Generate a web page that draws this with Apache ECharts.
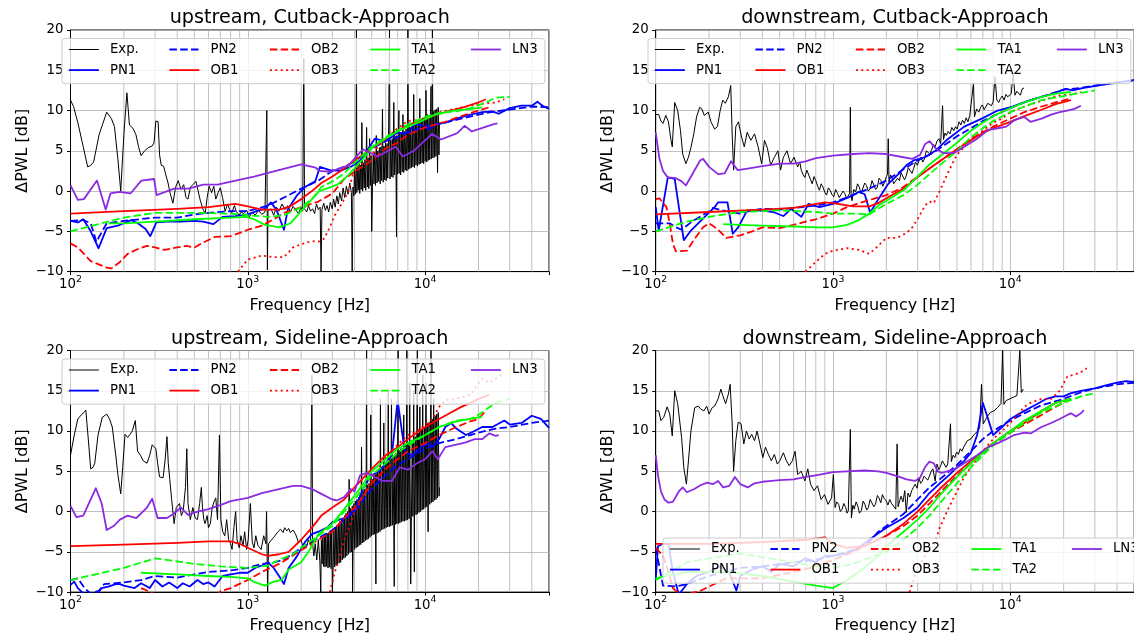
<!DOCTYPE html>
<html><head><meta charset="utf-8">
<script src="https://cdn.jsdelivr.net/npm/echarts@6/dist/echarts.min.js"></script>
<style>html,body{margin:0;padding:0;background:#fff}#c{width:1134px;height:634px}</style>
</head><body><div id="c"></div>
<script>
// ---------------- DATA ----------------
const seriesNames = ['Exp.','PN1','PN2','OB1','OB2','OB3','TA1','TA2','LN3'];
const legendOrder = ['Exp.','PN2','OB2','TA1','LN3','PN1','OB1','OB3','TA2'];
const titles = ['upstream, Cutback-Approach','downstream, Cutback-Approach','upstream, Sideline-Approach','downstream, Sideline-Approach'];
const yTicks = [-10,-5,0,5,10,15,20];
const minorFreqs = [200,300,400,500,600,700,800,900,2000,3000,4000,5000,6000,7000,8000,9000,20000,30000,40000];

// ---- upstream, Cutback-Approach ----
const ucExp = [[100,11.3],[104,10.5],[110,8.5],[118,5.5],[125,3.0],[130,3.2],[135,3.6],[145,7.0],[160,9.8],[170,9.0],[177,8.0],[185,4.0],[192,0.0],[200,7.0],[208,12.2],[215,8.2],[225,7.8],[234,7.0],[242,5.5],[250,4.4],[262,5.0],[275,5.4],[289,5.6],[296,6.0],[303,8.7],[312,8.6],[318,4.5],[325,3.2],[335,3.1],[345,2.0],[355,1.0],[365,-0.3],[378,-1.5],[392,0.5],[405,1.3],[420,0.2],[435,0.8],[448,-0.8],[460,-1.0],[475,0.5],[490,0.8],[510,1.2],[525,0.0],[540,-1.2],[560,-2.3],[575,-2.8],[590,-0.8],[605,0.6],[625,-0.2],[643,0.6],[660,-1.0],[680,-0.2],[700,0.4],[720,-0.8],[745,-2.5],[770,-1.6],[790,-2.3],[810,-2.8],[840,-1.8],[860,-2.5],[890,-3.0],[920,-2.6],[950,-2.8],[985,-2.4],[1020,-3.2],[1060,-2.6],[1100,-3.0],[1150,-2.4],[1200,-2.9],[1250,-2.6],[1280,10.0],[1290,-9.8],[1300,-2.5],[1350,-2.2],[1400,-3.0],[1450,-2.0],[1500,-2.5],[1560,-1.6],[1620,-2.3],[1680,-1.8],[1740,-2.6],[1800,-1.9],[1860,-2.3],[1930,-2.8],[2000,-2.0],[2040,-2.5],[2070,16.5],[2090,-2.2],[2150,-2.6],[2200,-1.8],[2260,-2.5],[2320,-2.2],[2380,-2.8],[2440,-1.6],[2500,-2.3],[2560,-2.0],[2590,-10.0],[2620,-2.3],[2680,-1.5],[2740,-2.4],[2800,-1.8],[2860,-2.6],[2920,-1.4],[2990,-2.2],[3050,-1.0],[3110,-2.0],[3180,-0.6],[3240,-1.6],[3300,-0.2],[3380,-1.2],[3450,0.4],[3520,-0.8],[3600,0.6],[3680,-0.4],[3760,1.0],[3840,-0.2],[3880,-10.0],[3920,0.5],[3960,-0.6],
[4000,2.8],[4040,-0.4],[4080,3.1],[4100,20],[4120,-0.2],[4160,2.9],[4200,0.1],[4240,3.4],[4280,-0.3],[4320,3.2],[4360,0.2],[4400,8.5],[4445,0.0],[4490,3.5],[4535,0.4],[4580,3.9],[4625,0.1],[4680,7.9],[4720,0.5],[4770,4.1],[4815,0.3],[4865,6.5],[4910,0.7],[4960,4.4],[5000,-5.0],[5050,0.6],[5100,4.6],[5150,0.9],[5200,4.8],[5255,0.7],[5305,6.9],[5360,1.0],[5415,5.0],[5470,1.2],[5525,5.4],[5580,0.9],[5635,5.5],[5690,1.3],[5750,10.2],[5805,1.1],[5865,5.6],[5920,1.4],[5980,6.0],[6040,1.3],[6100,5.9],[6160,1.6],[6220,6.2],[6300,20],[6340,1.5],[6400,6.3],[6465,1.8],[6530,6.5],[6595,1.7],[6660,11.0],[6725,2.0],[6790,6.8],[6860,1.9],[6900,-5.7],[6930,6.9],[7000,2.1],[7070,7.0],[7120,10.0],[7140,2.2],[7210,7.2],[7280,2.0],[7355,7.3],[7430,2.4],[7500,9.5],[7580,2.3],[7655,7.4],[7730,2.6],[7810,7.7],[7890,2.5],[7970,7.8],[8000,20],[8050,2.7],[8130,8.0],[8210,2.8],[8290,7.9],[8375,2.9],[8460,8.2],[8540,3.0],[8630,12.0],[8715,2.9],[8800,8.4],[8890,3.2],[8980,8.5],[9070,3.1],[9160,8.7],[9250,3.3],[9340,11.5],[9440,3.4],[9530,8.9],[9630,3.5],[9720,9.1],[9820,3.4],[9920,9.2],[10020,3.7],[10120,12.5],[10220,3.6],[10320,9.5],[10420,3.8],[10530,9.4],[10630,3.9],[10740,9.7],[10800,13.0],[10850,4.0],[10960,9.8],[11000,20],[11070,4.1],[11180,9.9],[11290,4.2],[11400,10.1],[11520,4.3],[11630,10.2],[11760,2.3],[11860,10.4],[11980,4.5],[12050,8.5]];
const ucPN1 = [[100,-3.7],[110,-3.9],[118,-3.5],[130,-5.0],[144,-7.1],[160,-4.6],[185,-4.3],[205,-3.9],[220,-3.6],[240,-4.0],[265,-4.7],[282,-5.6],[305,-3.9],[350,-3.8],[420,-3.8],[500,-3.7],[560,-3.8],[640,-4.1],[720,-3.2],[850,-3.1],[1000,-2.9],[1150,-2.4],[1250,-2.2],[1350,-1.4],[1450,-2.3],[1600,-4.8],[1680,-2.3],[1900,-0.5],[2100,0.5],[2400,1.2],[2550,3.0],[2900,2.6],[3300,2.5],[3800,3.0],[4300,3.8],[4700,5.0],[5200,6.5],[5700,6.3],[6400,6.6],[7000,7.3],[7500,7.2],[8100,7.3],[8700,8.3],[9500,8.2],[10500,7.7],[11500,8.3],[13000,8.5],[15000,9.0],[18000,9.5],[21000,9.8],[24000,9.9],[26000,9.6],[30000,10.3],[35000,10.6],[40000,10.6],[43000,11.1],[46000,10.6],[50000,10.2]];
const ucPN2 = [[100,-3.7],[118,-3.6],[130,-4.0],[140,-6.3],[160,-4.0],[200,-3.7],[300,-3.3],[400,-3.3],[500,-2.9],[600,-2.7],[800,-2.5],[1000,-2.5],[1300,-1.8],[1600,-0.8],[2000,0.3],[2500,1.3],[3000,2.5],[3500,3.0],[4000,3.7],[4500,4.5],[5000,5.3],[6000,6.2],[7000,6.7],[8000,7.3],[10000,8.0],[13000,8.5],[16000,9.0],[20000,9.5],[25000,9.9],[30000,10.1],[40000,10.5],[50000,10.4]];
const ucOB1 = [[100,-2.8],[200,-2.5],[400,-2.2],[600,-2.0],[850,-1.6],[1000,-1.9],[1200,-2.3],[1500,-2.3],[1700,-2.0],[2000,-1.0],[2300,0.0],[2600,1.0],[3000,1.8],[3500,2.8],[4000,3.8],[5000,5.3],[6000,6.5],[7000,7.5],[8000,8.2],[10000,9.0],[12000,9.6],[14000,10.0],[17000,10.5],[20000,11.0],[22000,11.4]];
const ucOB2 = [[100,-6.5],[110,-7.0],[130,-8.7],[160,-9.5],[170,-9.6],[190,-8.8],[210,-7.8],[240,-7.2],[270,-6.8],[300,-7.0],[340,-7.3],[400,-7.0],[450,-6.8],[500,-7.0],[560,-6.4],[650,-5.7],[800,-5.6],[900,-5.2],[1000,-4.8],[1200,-4.3],[1400,-3.5],[1600,-2.7],[2000,-2.0],[2500,-1.3],[3000,-0.3],[3500,1.5],[4000,2.4],[5000,3.8],[6000,5.3],[7000,6.0],[8000,7.0],[10000,7.9],[13000,8.6],[16000,9.3],[20000,10.0],[23000,10.4]];
const ucOB3 = [[880,-10.0],[1000,-8.5],[1200,-8.0],[1400,-8.2],[1600,-8.2],[1800,-7.0],[2000,-6.6],[2300,-6.2],[2500,-6.3],[2700,-5.9],[2900,-4.5],[3100,-3.0],[3400,-1.5],[3700,0.0],[4000,2.8],[4500,3.5],[5000,4.5],[5500,5.7],[6000,6.5],[7000,7.8],[8000,8.7],[9000,8.8],[10000,9.0],[11000,9.4],[12000,9.8],[14000,10.1],[17000,10.5],[20000,10.8],[25000,11.0],[28000,11.4]];
const ucTA1 = [[164,-4.0],[200,-4.0],[300,-3.8],[500,-3.5],[800,-3.3],[985,-3.2],[1084,-3.5],[1250,-4.2],[1510,-4.5],[1740,-4.0],[2000,-2.5],[2300,-1.0],[2530,0.0],[2780,0.3],[3200,0.8],[3700,2.0],[4470,4.0],[5100,5.5],[5950,6.5],[7100,7.5],[9100,8.5],[11400,9.5],[14500,10.0],[18400,10.2],[21000,10.4]];
const ucTA2 = [[100,-5.0],[150,-4.0],[200,-3.3],[300,-2.7],[500,-2.7],[800,-2.8],[1000,-3.0],[1300,-3.2],[1600,-3.0],[2000,-2.0],[2300,-1.0],[2600,0.5],[3000,1.2],[3500,2.2],[4000,3.5],[5000,5.5],[6000,6.7],[7000,7.5],[8000,8.3],[10000,9.2],[12000,9.7],[15000,9.9],[18000,10.3],[22000,11.0],[25000,11.6],[30000,11.7]];
const ucLN3 = [[100,0.7],[110,-1.1],[119,-1.0],[141,1.3],[158,-2.3],[168,-0.3],[189,-0.1],[218,-0.3],[251,1.3],[296,1.5],[306,-0.5],[384,0.3],[463,0.3],[560,0.8],[676,0.8],[816,1.2],[1084,1.8],[1439,2.5],[2000,3.3],[2415,2.9],[2530,2.5],[2917,2.4],[3698,3.2],[4467,5.2],[5395,4.3],[6823,5.5],[7500,4.3],[8630,5.0],[10940,7.1],[12300,6.4],[15200,7.2],[16700,8.1],[18370,7.4],[24400,8.3],[25600,8.4]];

// ---- downstream, Cutback-Approach ----
const dcExp = [[100,9.5],[104,9.5],[107,8.7],[110,8.4],[114,9.4],[118,8.6],[122,6.3],[124,5.5],[128,11.0],[133,10.0],[138,7.5],[142,4.6],[148,3.4],[153,4.2],[158,5.4],[164,7.1],[170,9.2],[177,10.4],[182,10.2],[188,9.4],[198,9.8],[205,8.6],[215,7.7],[223,8.0],[231,10.0],[239,11.3],[247,10.9],[257,11.7],[265,13.1],[270,7.1],[275,2.6],[283,8.0],[293,8.6],[305,6.7],[316,5.5],[328,7.3],[344,6.3],[361,7.1],[378,5.5],[396,3.4],[411,6.3],[427,5.3],[445,3.2],[467,4.2],[489,5.0],[506,2.6],[525,4.2],[550,5.0],[576,3.4],[603,4.2],[632,3.0],[650,3.6],[662,2.6],[680,2.0],[694,1.7],[712,2.6],[730,2.4],[748,1.4],[763,0.9],[782,1.8],[800,1.3],[820,0.6],[838,0.1],[858,0.9],[878,0.5],[900,-0.2],[920,-0.5],[942,0.4],[964,0.1],[985,-0.4],[1010,-0.7],[1035,0.2],[1061,-0.3],[1085,-0.8],[1112,-1.0],[1140,0.0],[1165,-0.3],[1195,-0.9],[1222,-0.7],[1240,-0.3],[1253,10.4],[1265,-0.5],[1280,-1.2],[1310,0.2],[1342,-0.1],[1375,0.9],[1406,0.5],[1440,-0.3],[1474,-0.1],[1510,1.0],[1545,0.7],[1580,0.0],[1620,0.3],[1660,1.3],[1700,1.1],[1740,0.2],[1780,0.5],[1820,1.6],[1865,1.3],[1910,0.6],[1955,1.1],[2000,1.8],[2030,2.1],[2050,6.5],[2070,1.1],[2110,2.0],[2150,1.7],[2200,0.9],[2250,0.7],[2310,1.6],[2370,1.3],[2420,2.3],[2470,2.1],[2530,1.4],[2590,1.9],[2660,2.9],[2730,2.8],[2790,2.2],[2850,2.8],[2920,3.6],[2990,3.2],[3060,3.8],[3140,4.2],[3210,3.6],[3280,4.0],[3360,5.0],[3440,4.8],[3520,4.6],[3610,5.2],[3690,5.8],[3770,5.5],[3860,6.2],[3960,6.5],[4050,5.9],[4100,6.0],[4150,10.6],[4200,6.4],[4280,7.2],[4360,6.9],[4460,7.4],[4570,7.1],[4680,7.9],[4800,7.5],[4910,8.0],[5020,7.7],[5140,8.6],[5260,8.2],[5380,8.8],[5510,8.4],[5640,9.1],[5770,8.6],[5910,9.4],[6050,9.6],[6200,13.4],[6280,9.2],[6460,10.2],[6640,9.8],[6800,10.4],[6960,10.7],[7120,10.1],[7290,10.0],[7470,10.9],[7650,10.9],[7830,10.6],[8010,11.1],[8200,14.2],[8400,11.3],[8600,11.0],[8800,11.5],[9010,11.8],[9230,11.3],[9450,12.0],[9670,11.7],[9900,11.6],[10130,12.1],[10380,14.6],[10630,11.9],[10880,12.4],[11140,12.3],[11400,11.9],[11680,12.7],[11960,12.8]];
const dcPN1 = [[100,-2.0],[104,-4.9],[117,1.7],[128,1.5],[131,1.7],[144,-6.1],[158,-4.9],[187,-3.3],[215,-2.0],[225,-1.4],[254,-1.4],[272,-5.3],[292,-4.5],[328,-2.4],[377,-2.4],[420,-2.5],[460,-2.6],[525,-3.1],[580,-2.2],[663,-3.2],[727,-1.6],[840,-2.0],[1000,-1.6],[1220,-0.8],[1400,-0.1],[1510,-0.4],[1620,-2.7],[1780,-1.2],[2050,0.9],[2360,2.2],[2590,3.2],[2850,3.8],[3300,4.2],[3780,5.0],[4360,6.3],[5500,8.0],[6900,9.0],[8500,10.0],[10300,10.5],[12950,11.3],[16300,11.9],[20500,12.7],[22500,12.5],[25900,12.8],[33000,13.2],[41000,13.5],[50000,13.8]];
const dcPN2 = [[100,-4.0],[110,-4.0],[120,-4.0],[130,-4.5],[140,-4.8],[160,-3.8],[200,-2.5],[210,-2.1],[250,-2.5],[300,-2.8],[350,-2.4],[400,-2.2],[500,-2.3],[600,-2.1],[800,-1.8],[1000,-1.4],[1200,-0.8],[1400,-0.2],[1600,0.3],[2000,1.3],[2500,2.7],[3000,3.8],[3500,4.5],[4000,5.3],[5000,6.8],[6000,7.8],[7000,8.7],[8000,9.3],[10000,10.3],[12000,11.0],[15000,11.7],[20000,12.6],[25000,12.8],[30000,13.1],[40000,13.5],[50000,13.7]];
const dcOB1 = [[100,-2.9],[200,-2.6],[400,-2.3],[600,-2.1],[900,-1.4],[1000,-1.5],[1300,-1.9],[1600,-1.9],[1800,-1.5],[2000,-0.9],[2500,0.3],[3000,1.7],[3500,2.8],[4000,3.7],[5000,5.2],[6000,6.3],[7000,7.2],[8000,7.8],[10000,8.6],[12000,9.3],[15000,10.1],[18000,10.8],[22000,11.3]];
const dcOB2 = [[100,-1.0],[105,-0.9],[115,-2.0],[120,-4.0],[125,-6.5],[130,-7.5],[150,-7.4],[165,-6.0],[185,-4.5],[200,-4.0],[210,-4.3],[230,-5.0],[250,-5.8],[300,-5.5],[350,-5.0],[400,-4.5],[500,-4.6],[600,-4.2],[700,-3.8],[800,-3.5],[1000,-2.8],[1200,-2.0],[1500,-1.3],[2000,-0.5],[2500,0.5],[3000,1.8],[3500,2.8],[4000,3.7],[5000,5.2],[6000,6.5],[7000,7.3],[8000,8.0],[10000,9.0],[12000,9.8],[15000,10.5],[18000,11.0],[22000,11.5]];
const dcOB3 = [[700,-10.0],[800,-8.8],[900,-7.8],[1000,-7.4],[1200,-7.1],[1400,-7.3],[1600,-7.8],[1800,-6.8],[2000,-5.8],[2300,-5.8],[2600,-5.2],[2800,-4.5],[3000,-3.5],[3300,-1.8],[3500,-1.3],[3700,-1.5],[4000,0.0],[4500,2.5],[5000,4.5],[5500,5.5],[6000,6.5],[7000,7.5],[8000,8.5],[9000,9.0],[10000,9.8],[12000,10.5],[15000,11.2],[18000,11.8],[22000,12.0],[25000,12.3]];
const dcTA1 = [[240,-4.1],[300,-4.2],[400,-4.3],[600,-4.4],[800,-4.5],[1000,-4.5],[1200,-4.2],[1400,-3.6],[1600,-2.8],[1800,-1.8],[2000,-1.2],[2500,0.1],[3000,1.8],[3500,3.3],[4000,4.3],[5000,6.0],[6000,7.5],[7000,8.5],[8000,9.3],[10000,10.3],[12000,11.0],[15000,11.7],[18000,12.1],[22000,12.3]];
const dcTA2 = [[100,-5.0],[150,-3.8],[200,-3.2],[300,-2.6],[500,-2.4],[800,-2.6],[1000,-2.8],[1300,-2.8],[1600,-2.9],[1800,-2.2],[2000,-1.6],[2500,-0.5],[3000,0.8],[3500,2.1],[4000,3.2],[5000,5.0],[6000,6.7],[7000,7.8],[8000,8.7],[10000,9.8],[12000,10.5],[15000,11.3],[20000,11.8],[25000,12.2],[30000,12.5]];
const dcLN3 = [[100,7.3],[105,4.0],[110,2.5],[117,1.7],[130,1.6],[140,1.2],[148,0.7],[160,2.0],[178,3.8],[185,4.0],[200,3.0],[225,2.1],[245,2.2],[266,3.7],[290,2.6],[330,2.8],[400,3.1],[500,3.4],[600,3.4],[700,3.7],[800,4.1],[1000,4.4],[1300,4.6],[1600,4.7],[2000,4.6],[2500,4.2],[2800,4.0],[3100,4.5],[3300,5.8],[3500,6.2],[3800,5.3],[4200,4.7],[4800,4.7],[5500,5.5],[6500,6.5],[7500,7.6],[8500,7.8],[9500,8.0],[10500,8.8],[12000,9.2],[13000,8.6],[15000,9.0],[17000,9.5],[19000,9.8],[21000,10.0],[23000,10.2],[25000,10.6]];

// ---- upstream, Sideline-Approach ----
const usExp = [[100,7.0],[105,9.5],[110,11.5],[115,12.0],[119,12.3],[122,12.6],[126,9.0],[130,5.3],[134,5.5],[137,6.0],[143,9.5],[151,11.7],[160,12.1],[166,11.5],[172,10.5],[180,7.0],[185,4.6],[192,2.2],[197,5.5],[203,9.6],[210,9.2],[217,9.6],[223,10.0],[232,11.3],[239,7.5],[248,7.0],[257,6.3],[270,6.0],[280,7.0],[289,8.3],[296,8.2],[303,7.8],[310,6.0],[318,4.3],[333,4.2],[342,6.5],[350,9.3],[356,6.0],[363,4.0],[372,1.5],[384,-1.5],[395,0.5],[412,1.0],[422,-0.5],[432,0.0],[445,3.0],[453,7.8],[460,1.0],[474,-1.0],[490,0.5],[505,-0.8],[520,-1.0],[535,1.0],[547,3.0],[555,0.5],[565,-1.0],[574,-1.5],[590,-0.5],[600,-2.0],[615,-1.5],[630,0.5],[645,1.2],[660,1.7],[675,-1.0],[692,9.5],[705,-1.0],[722,-2.5],[742,-3.0],[760,-1.0],[780,-3.5],[800,-4.0],[815,-4.7],[835,-2.0],[854,0.0],[870,-3.5],[895,-4.5],[915,-3.0],[940,-4.3],[960,-2.5],[985,-4.7],[1005,-3.5],[1034,1.0],[1060,-3.8],[1084,-4.5],[1110,-3.0],[1140,-4.2],[1190,-4.7],[1230,-3.0],[1265,-4.0],[1276,0.0],[1294,-10.0],[1310,-4.0],[1350,-3.6],[1400,-3.2],[1436,-3.0],[1480,-2.5],[1530,-2.2],[1580,-2.6],[1615,-2.0],[1660,-2.4],[1700,-2.1],[1736,-2.6],[1800,-2.3],[1860,-2.8],[1930,-3.8],[1995,-3.5],[2060,-4.5],[2134,-4.5],[2200,-3.5],[2260,-4.2],[2300,16.9],[2320,-4.0],[2360,-5.5],[2400,-4.0],[2450,-6.0],[2500,-3.5],[2550,-6.2],[2580,-10.0],[2600,-3.5],[2625,-6.5],
[2650,-3.2],[2675,-6.8],[2700,-3.0],[2725,-6.9],[2750,-2.9],[2780,-6.8],[2805,-2.7],[2835,-7.0],[2860,-2.6],[2890,-6.9],[2920,-2.4],[2950,-7.1],[2975,-2.3],[3000,-10.0],[3030,-7.0],[3060,-2.1],[3090,-6.9],[3120,-1.9],[3150,-6.7],[3180,-1.7],[3210,-6.6],[3245,-1.5],[3275,-6.4],[3310,-1.2],[3340,-6.3],[3375,-1.0],[3410,-6.0],[3445,-0.8],[3480,-5.8],[3515,-0.5],[3550,-5.7],[3585,-0.2],[3620,-5.5],[3655,0.0],[3695,-5.3],[3730,4.0],[3770,-5.1],[3805,0.4],[3845,-5.0],[3885,0.7],[3900,-10.0],[3925,-4.8],[3965,1.0],[4005,-4.7],[4045,1.3],[4085,-4.5],[4125,1.5],[4170,-4.4],[4210,1.8],[4250,-4.2],[4295,2.1],[4340,-4.1],[4380,8.0],[4425,-3.9],[4470,2.6],[4515,-3.8],[4560,2.8],[4605,-3.6],[4650,3.0],[4680,20],[4700,-3.5],[4745,3.3],[4795,-3.4],[4840,3.5],[4890,-3.2],[4940,12.0],[4990,-3.0],[5040,4.0],[5090,-2.9],[5140,4.3],[5190,-2.8],[5240,4.5],[5280,-9.0],[5295,4.7],[5350,-2.7],[5400,4.9],[5455,-2.6],[5510,5.1],[5565,-2.5],[5600,14.0],[5620,5.3],[5680,-2.3],[5735,5.5],[5790,-2.2],[5850,11.0],[5910,-2.1],[5970,5.9],[6030,-2.0],[6090,6.1],[6150,-1.9],[6200,15.0],[6215,6.3],[6275,-1.9],[6340,6.5],[6400,-1.8],[6465,14.0],[6530,-1.7],[6595,6.9],[6660,-1.7],[6700,-9.3],[6730,7.1],[6795,-1.6],[6865,7.3],[6930,-1.5],[7000,7.5],[7050,20],[7070,-1.5],[7140,7.6],[7210,-1.4],[7285,7.8],[7355,-1.3],[7430,7.9],[7505,-1.2],[7580,12.0],[7655,-1.2],[7730,8.2],[7810,-1.1],[7890,20],[7965,-1.0],[8045,8.5],[8130,-0.9],[8200,16.0],[8210,8.7],[8300,-9.0],[8375,-0.7],[8460,8.9],[8540,-0.6],[8630,15.0],[8700,-7.5],[8715,-0.5],[8800,9.3],[8890,-0.4],[8980,9.5],[9050,20],[9070,-0.3],[9160,9.7],[9250,-0.1],[9340,13.0],[9440,0.0],[9530,10.1],[9630,0.2],[9700,17.0],[9720,10.3],[9820,0.3],[9920,10.5],[10020,0.5],[10120,16.0],[10220,0.6],[10320,10.9],[10400,-2.5],[10420,0.8],[10530,11.1],[10630,0.9],[10740,11.3],[10800,20],[10850,1.1],[10960,11.5],[11070,1.2],[11180,14.0],[11290,1.4],[11400,11.9],[11520,1.5],[11630,12.1],[11750,1.7],[11870,12.3],[11990,1.9],[12050,3.0]];
const usPN1 = [[100,-9.1],[105,-8.7],[110,-9.5],[120,-10.3],[140,-10.3],[150,-9.5],[165,-9.3],[180,-9.0],[190,-9.0],[200,-9.2],[230,-9.5],[250,-8.9],[280,-9.5],[300,-8.5],[330,-9.3],[360,-8.8],[400,-9.5],[430,-8.9],[470,-9.3],[520,-8.5],[560,-9.0],[600,-8.8],[650,-9.3],[720,-8.0],[800,-7.8],[900,-7.6],[1000,-7.6],[1100,-7.0],[1200,-6.7],[1300,-6.3],[1400,-7.0],[1500,-8.0],[1600,-9.0],[1700,-7.0],[1900,-5.5],[2100,-3.8],[2300,-2.8],[2500,-2.5],[2800,-2.0],[3000,-1.3],[3500,-0.8],[4000,0.2],[4500,3.0],[5000,4.5],[5500,5.0],[6000,6.0],[6500,7.0],[7000,13.8],[7400,10.0],[7700,7.3],[8500,7.0],[9500,8.0],[10500,8.5],[11000,8.0],[12000,9.0],[13000,10.5],[14000,11.0],[15000,10.3],[17000,9.5],[19000,10.0],[21000,10.5],[24000,10.5],[28000,11.3],[30000,10.8],[35000,11.0],[40000,11.9],[45000,11.5],[50000,10.4]];
const usPN2 = [[100,-8.5],[110,-8.3],[120,-9.5],[130,-10.2],[145,-9.8],[155,-9.0],[200,-8.8],[250,-8.5],[300,-8.0],[400,-8.2],[500,-7.8],[600,-7.5],[800,-7.3],[1000,-7.0],[1200,-6.5],[1400,-6.3],[1600,-6.0],[2000,-4.5],[2500,-3.3],[3000,-2.3],[3500,-1.0],[4000,0.0],[4500,1.5],[5000,2.8],[6000,4.5],[7000,5.8],[8000,6.5],[10000,7.8],[12000,8.5],[15000,9.0],[20000,9.8],[25000,10.3],[30000,10.5],[40000,11.0],[50000,11.3]];
const usOB1 = [[100,-4.3],[200,-4.1],[400,-3.9],[600,-3.7],[800,-3.7],[900,-4.0],[1000,-4.5],[1200,-5.3],[1300,-5.5],[1500,-5.3],[1700,-5.0],[2000,-3.5],[2300,-2.0],[2600,-0.5],[3000,0.5],[3500,1.5],[4000,3.0],[5000,5.3],[6000,7.0],[7000,8.0],[8000,9.0],[10000,10.5],[12000,11.5],[14000,12.3],[16000,13.0],[18000,13.5],[20000,14.0],[23000,14.5]];
const usOB2 = [[250,-9.5],[270,-9.8],[300,-10.3],[680,-10.3],[700,-9.9],[800,-9.5],[1000,-8.5],[1200,-7.5],[1500,-6.5],[1700,-5.8],[2000,-4.8],[2500,-3.5],[3000,-2.5],[3500,-0.8],[4000,0.5],[4500,2.0],[5000,3.5],[6000,5.3],[7000,6.5],[8000,7.5],[10000,8.5],[12000,9.5],[15000,10.5],[18000,11.2],[20000,11.5],[22000,12.5]];
const usOB3 = [[2900,-10.0],[3100,-7.5],[3300,-5.5],[3500,-3.5],[3800,-1.5],[4000,0.0],[4500,2.0],[5000,4.0],[5500,5.5],[6000,6.8],[7000,8.3],[8000,9.5],[9000,10.0],[10000,10.8],[11000,11.5],[12000,13.0],[13000,13.8],[15000,14.0],[18000,14.5],[21000,16.5],[23000,16.0],[25000,16.5],[27000,17.0]];
const usTA1 = [[250,-7.6],[400,-7.8],[600,-8.0],[800,-8.1],[1000,-8.3],[1100,-8.8],[1250,-9.2],[1400,-8.7],[1550,-8.5],[1700,-7.2],[2000,-6.3],[2200,-5.0],[2500,-2.8],[3000,-1.5],[3500,0.3],[4000,2.0],[4500,3.5],[5000,5.0],[6000,6.5],[7000,7.8],[8000,8.5],[10000,9.5],[12000,10.5],[15000,11.2],[18000,11.5],[21000,11.8]];
const usTA2 = [[100,-8.5],[200,-7.0],[300,-5.8],[500,-6.5],[700,-6.8],[1000,-7.0],[1300,-6.7],[1500,-6.0],[1800,-5.3],[2000,-4.5],[2500,-3.0],[3000,-1.8],[3500,0.0],[4000,1.5],[4500,3.0],[5000,4.5],[6000,6.0],[7000,7.3],[8000,8.2],[10000,9.5],[12000,10.5],[15000,11.3],[18000,11.5],[20000,12.0],[25000,13.5],[30000,14.0]];
const usLN3 = [[100,0.7],[108,-0.7],[118,-0.5],[130,1.5],[139,2.9],[150,1.0],[160,-2.3],[175,-1.8],[190,-1.0],[210,-0.5],[235,-0.8],[270,0.5],[289,1.6],[310,-0.8],[350,-0.8],[380,-0.3],[420,0.5],[460,-0.4],[520,0.0],[600,0.3],[700,0.8],[800,1.3],[1000,1.7],[1200,2.3],[1500,2.8],[1800,3.2],[2000,3.2],[2300,2.8],[2600,2.2],[3000,1.5],[3200,1.4],[3500,1.8],[3800,2.8],[4000,2.5],[4300,4.5],[4700,4.8],[5200,4.3],[5800,3.8],[6500,3.8],[7200,5.5],[8000,5.2],[9000,6.0],[10000,6.5],[11000,7.5],[11800,6.5],[13000,8.0],[15000,8.3],[17000,8.6],[19000,9.0],[21000,9.0],[23000,9.7],[25000,9.4],[26000,9.5]];

// ---- downstream, Sideline-Approach ----
const dsExp = [[100,12.5],[104,12.5],[107,11.3],[111,11.7],[116,13.0],[120,12.1],[124,9.4],[128,15.0],[133,13.4],[140,9.2],[144,5.5],[149,3.4],[153,6.3],[158,10.0],[166,12.9],[174,13.1],[180,12.7],[187,12.5],[194,13.1],[200,12.1],[208,12.9],[215,13.1],[225,14.0],[233,15.2],[239,14.4],[248,13.4],[257,14.6],[263,15.8],[270,10.9],[275,5.0],[283,8.8],[292,11.1],[303,10.9],[314,8.4],[325,10.0],[337,9.0],[348,9.6],[361,8.8],[373,10.0],[387,8.4],[402,6.7],[416,8.0],[432,7.1],[449,6.3],[467,7.1],[485,5.9],[501,6.3],[525,7.3],[546,6.3],[566,5.7],[590,6.3],[611,7.5],[632,4.6],[662,5.0],[694,3.8],[721,5.3],[747,3.4],[781,2.6],[818,3.2],[856,1.5],[896,2.1],[937,0.9],[982,1.7],[1005,4.6],[1028,0.5],[1050,1.2],[1076,0.9],[1100,0.0],[1126,0.3],[1150,1.0],[1180,0.5],[1200,-0.2],[1220,0.1],[1253,10.2],[1270,-0.8],[1295,0.8],[1318,0.3],[1350,1.2],[1380,0.7],[1410,-0.2],[1444,0.1],[1480,1.3],[1512,0.9],[1550,0.2],[1583,0.5],[1620,1.5],[1657,1.3],[1700,0.6],[1735,0.9],[1780,2.0],[1816,1.7],[1860,1.1],[1900,2.1],[1950,1.6],[2000,1.3],[2040,0.8],[2090,1.5],[2140,1.0],[2190,0.7],[2260,0.3],[2300,8.4],[2330,0.6],[2380,1.4],[2420,1.9],[2480,1.2],[2540,2.6],[2590,-0.1],[2650,2.3],[2710,1.8],[2780,2.6],[2840,3.0],[2910,3.4],[2980,2.9],[3050,4.2],[3120,3.5],[3190,3.8],[3260,4.4],[3340,4.6],[3420,3.9],[3500,4.4],[3580,5.0],[3660,5.3],[3770,3.8],[3860,5.9],[3950,5.2],[4050,5.7],[4140,6.3],[4240,6.1],[4340,5.5],[4440,5.9],[4600,10.9],[4650,6.2],[4760,7.0],[4870,6.7],[4980,7.4],[5100,7.1],[5220,7.8],[5340,7.5],[5460,8.0],[5590,8.2],[5720,8.8],[5850,8.6],[5990,9.0],[6130,9.2],[6270,9.6],[6420,9.8],[6570,10.0],[6720,10.4],[6880,15.8],[7040,10.9],[7200,11.3],[7370,11.7],[7540,12.0],[7710,12.3],[7890,12.2],[8080,12.5],[8270,12.7],[8460,12.9],[8660,13.0],[8860,13.4],[9060,20],[9200,13.3],[9500,13.8],[9720,13.6],[9950,14.0],[10180,14.1],[10400,14.2],[10650,14.0],[10900,14.4],[11100,14.3],[11320,20],[11540,14.8],[11700,14.6],[11870,15.2]];
const dsPN1 = [[100,-8.5],[103,-4.3],[110,-4.0],[118,-4.0],[125,-7.5],[135,-10.3],[150,-9.0],[170,-8.0],[200,-7.5],[230,-6.8],[260,-7.5],[285,-9.8],[300,-8.0],[350,-7.2],[400,-6.8],[450,-7.5],[500,-6.5],[600,-6.8],[700,-5.8],[800,-6.3],[900,-5.5],[1000,-5.5],[1200,-5.2],[1400,-4.5],[1600,-3.5],[1800,-2.7],[2000,-2.0],[2500,-0.8],[3000,0.5],[3500,2.3],[4000,3.5],[4500,4.5],[5000,5.5],[5500,6.3],[6000,7.3],[6500,9.5],[7000,13.5],[7500,11.5],[8000,9.5],[9000,10.5],[10000,11.5],[12000,12.5],[14000,13.3],[16000,14.0],[18000,14.3],[20000,14.3],[22000,14.7],[25000,15.0],[30000,15.3],[35000,15.7],[40000,16.0],[45000,16.2],[50000,16.1]];
const dsPN2 = [[100,-4.5],[110,-9.2],[130,-9.3],[150,-9.0],[200,-8.0],[300,-7.0],[400,-6.8],[600,-6.3],[800,-6.0],[1000,-5.5],[1300,-4.8],[1600,-3.8],[1800,-2.5],[2000,-1.8],[2500,-0.3],[3000,1.5],[3500,3.0],[4000,4.0],[5000,5.8],[6000,7.5],[7000,9.0],[8000,10.0],[10000,11.3],[12000,12.2],[15000,13.2],[20000,14.0],[25000,14.8],[30000,15.3],[40000,15.8],[50000,16.0]];
const dsOB1 = [[100,-4.0],[200,-4.0],[400,-3.8],[700,-3.5],[900,-3.2],[1000,-4.0],[1200,-4.5],[1500,-4.3],[1800,-3.5],[2000,-3.0],[2500,-1.5],[3000,0.0],[3500,1.5],[4000,2.8],[5000,4.8],[6000,6.3],[7000,7.5],[8000,8.5],[10000,10.0],[12000,11.0],[15000,12.5],[18000,13.5],[22000,14.0]];
const dsOB2 = [[100,-4.5],[110,-5.5],[118,-7.5],[125,-9.5],[140,-10.5],[180,-9.8],[250,-8.3],[400,-8.3],[600,-7.5],[800,-6.8],[1000,-6.0],[1300,-5.0],[1600,-4.0],[2000,-3.0],[2500,-1.8],[3000,-0.5],[3500,1.0],[4000,2.3],[5000,4.5],[6000,6.0],[7000,7.3],[8000,8.3],[10000,9.8],[12000,10.8],[15000,12.0],[18000,13.0],[22000,14.0]];
const dsOB3 = [[2700,-10.0],[2900,-8.0],[3200,-6.0],[3500,-4.5],[3800,-3.5],[4000,-2.0],[4500,0.5],[5000,2.5],[5500,4.3],[6000,5.5],[6500,6.5],[7000,7.5],[8000,9.0],[9000,10.0],[10000,11.0],[11000,12.0],[12000,13.0],[13000,13.5],[15000,14.0],[17000,14.0],[19000,15.0],[21000,16.8],[23000,17.0],[25000,17.3],[27000,17.8]];
const dsTA1 = [[100,-8.3],[150,-7.5],[250,-7.5],[400,-8.0],[600,-8.7],[800,-9.2],[1000,-9.5],[1200,-8.5],[1500,-7.0],[1800,-5.5],[2000,-4.3],[2500,-2.5],[3000,-1.0],[3500,0.5],[4000,2.0],[5000,4.3],[6000,6.0],[7000,7.3],[8000,8.5],[10000,10.0],[12000,11.3],[15000,12.5],[18000,13.5],[22000,14.0]];
const dsTA2 = [[100,-8.5],[150,-6.3],[200,-5.8],[300,-5.2],[500,-6.0],[800,-6.8],[1000,-7.0],[1300,-6.5],[1500,-6.0],[1800,-5.3],[2000,-5.0],[2500,-3.5],[3000,-2.0],[3500,-0.5],[4000,1.0],[5000,3.5],[6000,5.5],[7000,7.0],[8000,8.2],[10000,9.8],[12000,11.0],[15000,12.3],[20000,13.5],[25000,14.3],[30000,14.7]];
const dsLN3 = [[100,7.0],[103,4.5],[107,2.5],[112,1.5],[118,1.1],[125,1.2],[135,2.5],[142,3.0],[150,2.4],[165,2.8],[180,3.3],[195,3.6],[210,3.4],[225,3.8],[240,3.0],[260,3.2],[280,4.3],[300,3.4],[330,3.0],[360,3.5],[400,3.7],[450,3.8],[500,3.9],[600,4.0],[700,4.3],[800,4.5],[900,4.7],[1000,4.9],[1200,5.0],[1500,5.1],[1800,5.0],[2000,4.8],[2300,4.4],[2600,4.0],[2900,3.8],[3100,4.2],[3300,5.5],[3500,6.2],[3700,6.0],[3900,5.0],[4100,4.8],[4400,5.0],[4800,5.2],[5500,6.0],[6500,7.0],[7500,8.0],[8500,8.5],[9500,9.0],[10500,9.5],[12000,9.8],[13000,9.7],[15000,10.5],[17000,11.0],[19000,11.5],[21000,12.0],[22000,12.2],[23500,11.8],[25000,12.2],[26000,12.6]];

// --------------- BUILD ---------------
const panelData = [
  {'Exp.':ucExp,PN1:ucPN1,PN2:ucPN2,OB1:ucOB1,OB2:ucOB2,OB3:ucOB3,TA1:ucTA1,TA2:ucTA2,LN3:ucLN3},
  {'Exp.':dcExp,PN1:dcPN1,PN2:dcPN2,OB1:dcOB1,OB2:dcOB2,OB3:dcOB3,TA1:dcTA1,TA2:dcTA2,LN3:dcLN3},
  {'Exp.':usExp,PN1:usPN1,PN2:usPN2,OB1:usOB1,OB2:usOB2,OB3:usOB3,TA1:usTA1,TA2:usTA2,LN3:usLN3},
  {'Exp.':dsExp,PN1:dsPN1,PN2:dsPN2,OB1:dsOB1,OB2:dsOB2,OB3:dsOB3,TA1:dsTA1,TA2:dsTA2,LN3:dsLN3}
];
const FONT = 'DejaVu Sans';
const DASH = [7.5, 3.3], DOT = [2, 3.4];
const styles = {
  'Exp.': {color:'#000000', width:1.0, type:'solid'},
  PN1: {color:'#0000ff', width:1.8, type:'solid'},
  PN2: {color:'#0000ff', width:1.8, type:DASH},
  OB1: {color:'#ff0000', width:1.8, type:'solid'},
  OB2: {color:'#ff0000', width:1.8, type:DASH},
  OB3: {color:'#ff0000', width:1.8, type:DOT},
  TA1: {color:'#00ff00', width:1.8, type:'solid'},
  TA2: {color:'#00ff00', width:1.8, type:DASH},
  LN3: {color:'#8a2be2', width:1.8, type:'solid'}
};
const layout = [
  {left:70.5, top:30, lgLeft:62, lgTop:38.5},
  {left:655.7, top:30, lgLeft:648, lgTop:38.5},
  {left:70.5, top:350.5, lgLeft:62, lgTop:359},
  {left:655.7, top:350.5, lgLeft:663, lgTop:538}
];
const PW = 478.5, PH = 241.6;

const grids = [], xAxes = [], yAxes = [], series = [], legends = [], titleList = [];
layout.forEach((L, i) => {
  grids.push({left:L.left, top:L.top, width:PW, height:PH, show:true, borderColor:'#000', borderWidth:1, backgroundColor:'transparent', containLabel:false, outerBoundsMode:'none'});
  xAxes.push({
    type:'log', logBase:10, min:100, max:50000, gridIndex:i,
    name:'Frequency [Hz]', nameLocation:'middle', nameGap:26,
    nameTextStyle:{fontFamily:FONT, fontSize:16, color:'#000'},
    axisLine:{show:true, onZero:false, lineStyle:{color:'#000', width:1}},
    axisTick:{show:true, length:3.5, lineStyle:{color:'#000', width:1}},
    splitLine:{show:true, lineStyle:{color:'#b0b0b0', width:0.8}},
    axisLabel:{
      margin:3, fontFamily:FONT, color:'#000',
      formatter: v => { const e = Math.log10(v); const r = Math.round(e); return (Math.abs(e-r) < 1e-6 && r <= 4) ? '{b|10}{s|' + r + '}' : ''; },
      rich:{ b:{fontFamily:FONT, fontSize:13.3, lineHeight:20, color:'#000'}, s:{fontFamily:FONT, fontSize:9.4, lineHeight:10, verticalAlign:'top', color:'#000'} }
    }
  });
  yAxes.push({
    type:'value', min:-10, max:20, interval:5, gridIndex:i,
    name:'\u0394PWL [dB]', nameLocation:'middle', nameGap:40, nameRotate:90,
    nameTextStyle:{fontFamily:FONT, fontSize:16, color:'#000'},
    axisLine:{show:true, onZero:false, lineStyle:{color:'#000', width:1}},
    axisTick:{show:true, length:3.5, lineStyle:{color:'#000', width:1}},
    splitLine:{show:true, lineStyle:{color:'#b0b0b0', width:0.8}},
    axisLabel:{margin:7, fontFamily:FONT, fontSize:13.3, color:'#000',
      formatter: v => v < 0 ? '\u2212' + Math.abs(v) : String(v)}
  });
  // minor vertical grid lines placed through the axis scale
  const gridData = [];
  minorFreqs.forEach(f => { gridData.push([f, -10], [f, 20], [f, '-']); });
  series.push({type:'line', xAxisIndex:i, yAxisIndex:i, data:gridData, symbol:'none', silent:true, z:1,
    lineStyle:{color:'#b0b0b0', width:0.8}, connectNulls:false, animation:false});
  seriesNames.forEach(n => {
    const st = styles[n];
    series.push({type:'line', name:n, xAxisIndex:i, yAxisIndex:i, data:panelData[i][n], symbol:'none', showSymbol:false,
      silent:true, z:2, animation:false, clip:true,
      lineStyle:{color:st.color, width:st.width, type:st.type, cap:'butt', join:'round'},
      itemStyle:{color:st.color, opacity:0}});
  });
  legends.push({
    left:L.lgLeft, top:L.lgTop, orient:'horizontal', width:500,
    itemWidth:30, itemHeight:10, itemGap:0.6, padding:[1,3,3.6,6],
    backgroundColor:'rgba(255,255,255,0.8)', borderColor:'#cccccc', borderWidth:1, borderRadius:3,
    selectedMode:false, z:10,
    itemStyle:{opacity:0, borderWidth:0},
    lineStyle:{width:'inherit'},
    textStyle:{fontFamily:FONT, fontSize:13.3, color:'#000', lineHeight:20, width:58, padding:[0,0,0,6]},
    data: legendOrder.map(n => n === 'LN3' ? {name:n, textStyle:{width:30}} : {name:n})
  });
  titleList.push({
    text:titles[i], left:L.left + PW/2, top:L.top - 21, textAlign:'center', padding:0,
    textStyle:{fontFamily:FONT, fontSize:19.2, fontWeight:'normal', color:'#000'}
  });
});

const chart = echarts.init(document.getElementById('c'), null, {renderer:'canvas'});
chart.setOption({
  backgroundColor:'#ffffff',
  animation:false,
  title:titleList, grid:grids, xAxis:xAxes, yAxis:yAxes, legend:legends, series:series
});
</script>
</body></html>
